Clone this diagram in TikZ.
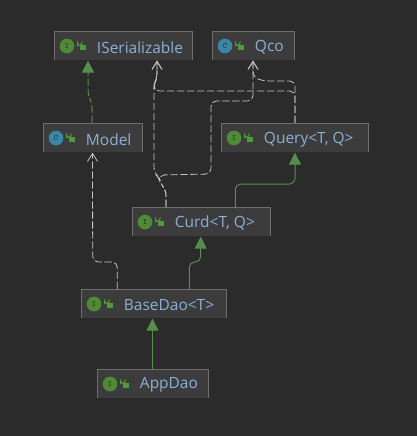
\documentclass[tikz,border=0pt]{standalone}
\usepackage{fontspec}
\setmainfont{Open Sans}
\usepackage{tikz}
\usetikzlibrary{positioning,arrows.meta,calc}
\definecolor{canvas}{HTML}{2B2B2B}
\definecolor{boxfill}{HTML}{3C3C3C}
\definecolor{boxedge}{HTML}{6E6E6E}
\definecolor{titleblue}{HTML}{8DB0D8}
\definecolor{ifacegreen}{HTML}{4F8A37}
\definecolor{classblue}{HTML}{3A86A8}
\definecolor{lockgreen}{HTML}{4F9A3C}
\definecolor{implgreen}{HTML}{568F4B}
\definecolor{depgray}{HTML}{C4C4C4}

\begin{document}
\begin{tikzpicture}[
  x=0.75pt,y=-0.75pt,
  font=\fontsize{11.6pt}{14pt}\selectfont,
  box/.style={fill=boxfill,minimum height=21.75pt,anchor=north west,inner sep=0pt,outer sep=0pt},
  title/.style={text=titleblue,anchor=west,inner sep=0pt},
  icon/.style={circle,minimum size=11pt,inner sep=0pt,font=\fontsize{6pt}{6pt}\selectfont\ttfamily\bfseries,text=black!80},
  lockbody/.style={fill=lockgreen,minimum width=4.5pt,minimum height=3.75pt,inner sep=0pt},
  impl/.style={implgreen,line width=0.75pt,rounded corners=4pt,shorten >=0.5pt,-{Triangle[width=9pt,length=9pt]}},
  dep/.style={depgray,line width=0.6pt,rounded corners=4pt,dash pattern=on 5.5pt off 2pt,shorten >=0.5pt,-{Straight Barb[width=7.5pt,length=6pt]}},
]
  \fill[canvas] (0,0) rectangle (417,436);
  \useasboundingbox (0,0) rectangle (417,436);

  % class boxes
  \foreach \n/\x/\y/\w/\k/\c/\t in {
    iser/54/31/138/I/ifacegreen/ISerializable,
    qco/212/31/82/C/classblue/Qco,
    model/43/123/99/C/classblue/Model,
    query/221/123/147/I/ifacegreen/{Query<T, Q>},
    curd/132/207/138/I/ifacegreen/{Curd<T, Q>},
    basedao/81/289/145/I/ifacegreen/{BaseDao<T>},
    appdao/97/369/111/I/ifacegreen/AppDao}
  {
    \node[box,minimum width=\w*0.75pt] (\n) at (\x,\y) {};
    \draw[boxedge,line width=0.6pt] (\n.south west) -- (\n.north west) -- (\n.north east) -- (\n.south east);
    \node[icon,fill=\c] (\n-icon) at ($(\n.west)+(13,0.5)$) {\k};
    \node[lockbody] (\n-lock) at ($(\n.west)+(28.5,2)$) {};
    \draw[lockgreen,line width=0.8pt] ($(\n-lock.north west)+(2.5,0)$) -- ++(0,-1.5) arc (0:180:2) -- ++(0,3);
    \node[title] (\n-text) at ($(\n.west)+(42.7,1.8)$) {\t};
  }

  % where the connectors meet the boxes
  \coordinate (iser-impl) at ($(iser.south west)+(34,0)$);
  \coordinate (iser-dep) at ($(iser.south west)+(103,0)$);
  \coordinate (qco-dep) at ($(qco.south west)+(41,0)$);
  \coordinate (model-out) at ($(model.north west)+(49,0)$);
  \coordinate (model-dep) at ($(model.south west)+(49.5,0)$);
  \coordinate (query-out) at ($(query.north west)+(74,0)$);
  \coordinate (query-impl) at ($(query.south west)+(74,0)$);
  \coordinate (curd-dep) at ($(curd.north west)+(34,0)$);
  \coordinate (curd-out) at ($(curd.north west)+(103.3,0)$);
  \coordinate (curd-impl) at ($(curd.south west)+(68.7,0)$);
  \coordinate (basedao-dep) at ($(basedao.north west)+(36.3,0)$);
  \coordinate (basedao-out) at ($(basedao.north west)+(108.3,0)$);

  % dependencies
  \draw[dep] (query-out) -- (295,91) -- (154,91) -- (154,84) -- (157,78) -- (iser-dep);
  \draw[dep] (query-out) -- (295,81) -- (263,81) -- (253,77) -- (qco-dep);
  \draw[dep] (curd-dep) -- (166,190) -- (160,183) -- (159,177) -- (154,173) -- (154,84) -- (157,78) -- (iser-dep);
  \draw[dep] (curd-dep) -- (166,190) -- (160,183) -- (159,175) -- (211,174) -- (211,101) -- (253,101) -- (qco-dep);
  \draw[dep] (basedao-dep) -- (117.3,262) -- (92.7,262) -- (model-dep);

  % inheritance
  \draw[impl,dash pattern=on 5.5pt off 2.2pt] (model-out) -- (92,103) -- (88,95) -- (iser-impl);
  \draw[impl] (curd-out) -- (235.3,184) -- (295,184) -- (query-impl);
  \draw[impl] (basedao-out) -- (189.3,262) -- (200.7,262) -- (curd-impl);
  \draw[impl] (appdao.north) -- (basedao.south -| appdao.north);
\end{tikzpicture}
\end{document}
